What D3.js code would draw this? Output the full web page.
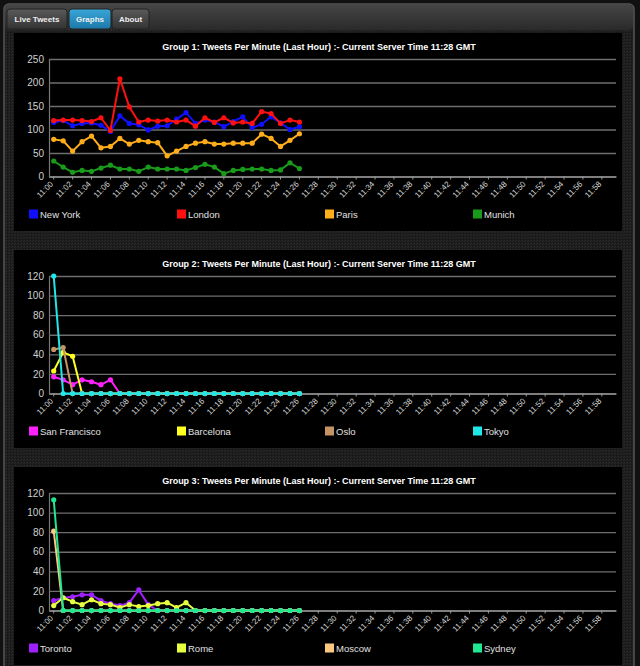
<!DOCTYPE html>
<html><head><meta charset="utf-8">
<script src="https://cdn.jsdelivr.net/npm/d3@7/dist/d3.min.js"></script>
<style>
html,body{margin:0;padding:0;background:#1c1c1c;overflow:hidden;}
svg{display:block;}
</style></head><body>
<svg id="c" width="640" height="666"></svg>
<script>
// ---------- DATA ----------
const categories = ["11:00","11:01","11:02","11:03","11:04","11:05","11:06","11:07","11:08","11:09",
  "11:10","11:11","11:12","11:13","11:14","11:15","11:16","11:17","11:18","11:19",
  "11:20","11:21","11:22","11:23","11:24","11:25","11:26","11:27","11:28","11:29",
  "11:30","11:31","11:32","11:33","11:34","11:35","11:36","11:37","11:38","11:39",
  "11:40","11:41","11:42","11:43","11:44","11:45","11:46","11:47","11:48","11:49",
  "11:50","11:51","11:52","11:53","11:54","11:55","11:56","11:57","11:58","11:59"];
const tickLabels = ["11:00","11:02","11:04","11:06","11:08","11:10","11:12","11:14","11:16","11:18",
  "11:20","11:22","11:24","11:26","11:28","11:30","11:32","11:34","11:36","11:38",
  "11:40","11:42","11:44","11:46","11:48","11:50","11:52","11:54","11:56","11:58"];
const dataMinutes = ["11:00","11:01","11:02","11:03","11:04","11:05","11:06","11:07","11:08","11:09",
  "11:10","11:11","11:12","11:13","11:14","11:15","11:16","11:17","11:18","11:19",
  "11:20","11:21","11:22","11:23","11:24","11:25","11:26"];

const titles = [
  "Group 1: Tweets Per Minute (Last Hour) :- Current Server Time 11:28 GMT",
  "Group 2: Tweets Per Minute (Last Hour) :- Current Server Time 11:28 GMT",
  "Group 3: Tweets Per Minute (Last Hour) :- Current Server Time 11:28 GMT"];

const group1Names = ["New York","London","Paris","Munich"];
const newYork = [115,119,108,113,114,109,96,129,113,110,99,107,108,122,136,113,120,116,106,117,127,104,111,127,114,100,106];
const london  = [119,120,120,119,117,125,98,208,148,116,120,118,120,116,120,107,125,115,125,114,116,113,138,134,113,120,116];
const paris   = [79,76,54,74,86,61,64,81,69,77,74,72,44,54,64,71,74,69,69,71,71,71,90,81,64,77,91];
const munich  = [33,20,9,13,11,18,24,16,16,11,20,16,16,16,13,19,26,20,6,13,15,16,16,13,14,29,17];
const group1Ticks = [0,50,100,150,200,250];

const group2Names = ["San Francisco","Barcelona","Oslo","Tokyo"];
const sanFrancisco = [17,14,9,14,12,9,14,0,0,0,0,0,0,0,0,0,0,0,0,0,0,0,0,0,0,0,0];
const barcelona    = [23,42,38,0,0,0,0,0,0,0,0,0,0,0,0,0,0,0,0,0,0,0,0,0,0,0,0];
const oslo         = [45,47,0,0,0,0,0,0,0,0,0,0,0,0,0,0,0,0,0,0,0,0,0,0,0,0,0];
const tokyo        = [120,0,0,0,0,0,0,0,0,0,0,0,0,0,0,0,0,0,0,0,0,0,0,0,0,0,0];
const group2Ticks = [0,20,40,60,80,100,120];

const group3Names = ["Toronto","Rome","Moscow","Sydney"];
const toronto = [10,13,14,16,16,10,7,5,8,21,6,0,0,0,0,0,0,0,0,0,0,0,0,0,0,0,0];
const rome    = [5,13,9,6,11,7,6,3,6,4,5,7,8,3,8,0,0,0,0,0,0,0,0,0,0,0,0];
const moscow  = [81,0,0,0,0,0,0,0,0,0,0,0,0,0,0,0,0,0,0,0,0,0,0,0,0,0,0];
const sydney  = [113,0,0,0,0,0,0,0,0,0,0,0,0,0,0,0,0,0,0,0,0,0,0,0,0,0,0];
const group3Ticks = [0,20,40,60,80,100,120];

const tabs = ["Live Tweets","Graphs","About"];

// ---------- STYLE ----------
const colors1 = ["#1010ff","#ff1010","#ffad1a","#1a9a1a"];
const colors2 = ["#ff20ff","#ffff20","#c49464","#20e8e8"];
const colors3 = ["#a020ff","#e8ff40","#ffc880","#20e890"];

const groups = [
  {title: titles[0], names: group1Names, series:[newYork,london,paris,munich], colors: colors1, ticks: group1Ticks, max:250, off:0},
  {title: titles[1], names: group2Names, series:[sanFrancisco,barcelona,oslo,tokyo], colors: colors2, ticks: group2Ticks, max:120, off:217},
  {title: titles[2], names: group3Names, series:[toronto,rome,moscow,sydney], colors: colors3, ticks: group3Ticks, max:120, off:434}
];

const svg = d3.select("#c");
const defs = svg.append("defs");
const pat = defs.append("pattern").attr("id","tex").attr("width",3).attr("height",3).attr("patternUnits","userSpaceOnUse");
pat.append("rect").attr("width",3).attr("height",3).attr("fill","#1d1d1d");
pat.append("rect").attr("x",0).attr("y",0).attr("width",1).attr("height",1).attr("fill","#2c2c2c");
pat.append("rect").attr("x",2).attr("y",1).attr("width",1).attr("height",1).attr("fill","#262626");
pat.append("rect").attr("x",1).attr("y",2).attr("width",1).attr("height",1).attr("fill","#151515");

const hg = defs.append("linearGradient").attr("id","hdr").attr("x1",0).attr("y1",0).attr("x2",0).attr("y2",1);
hg.append("stop").attr("offset","0").attr("stop-color","#454545");
hg.append("stop").attr("offset","1").attr("stop-color","#2a2a2a");
const tg = defs.append("linearGradient").attr("id","tabg").attr("x1",0).attr("y1",0).attr("x2",0).attr("y2",1);
tg.append("stop").attr("offset","0").attr("stop-color","#5a5a5a");
tg.append("stop").attr("offset","1").attr("stop-color","#333");
const tb = defs.append("linearGradient").attr("id","tabb").attr("x1",0).attr("y1",0).attr("x2",0).attr("y2",1);
tb.append("stop").attr("offset","0").attr("stop-color","#3aa6d8");
tb.append("stop").attr("offset","1").attr("stop-color","#1c78a8");

svg.append("rect").attr("width",640).attr("height",666).attr("fill","#111");
svg.append("rect").attr("x",4).attr("y",4).attr("width",630).attr("height",680).attr("rx",5)
  .attr("fill","url(#tex)").attr("stroke","#555").attr("stroke-width",1.5);
svg.append("rect").attr("x",5).attr("y",5).attr("width",628).attr("height",25).attr("rx",4).attr("fill","url(#hdr)");

// tabs
const tabX = [7,69,112], tabW = [60,42,37];
tabs.forEach((t,i)=>{
  svg.append("rect").attr("x",tabX[i]).attr("y",9).attr("width",tabW[i]).attr("height",20).attr("rx",3)
    .attr("fill", i===1 ? "url(#tabb)" : "url(#tabg)").attr("stroke","#222");
  svg.append("text").attr("x",tabX[i]+tabW[i]/2).attr("y",21.5).attr("text-anchor","middle")
    .attr("font-family","Liberation Sans, Arial, sans-serif").attr("font-size",8).attr("font-weight","bold")
    .attr("fill","#eee").text(t);
});

const x = d3.scaleBand().domain(categories).range([49,616]).paddingInner(0).paddingOuter(0);
const font = "Liberation Sans, Arial, sans-serif";

groups.forEach(g=>{
  const off = g.off;
  const top = 59 + off, bottom = 176.5 + off;
  svg.append("rect").attr("x",14).attr("y",33+off).attr("width",608).attr("height",198).attr("fill","#000");
  const y = d3.scaleLinear().domain([0,g.max]).range([bottom, top]);

  svg.append("text").attr("x",319).attr("y",49.5+off).attr("text-anchor","middle")
    .attr("font-family",font).attr("font-size",9).attr("font-weight","bold").attr("fill","#fff").text(g.title);

  const yAx = svg.append("g").attr("transform","translate(49,0)")
    .call(d3.axisLeft(y).tickValues(g.ticks).tickSize(-567).tickPadding(5));
  yAx.select(".domain").attr("stroke","#777").attr("stroke-width",1.2);
  yAx.selectAll(".tick line").attr("stroke","#6e6e6e").attr("stroke-width",1.3);
  yAx.selectAll(".tick text").attr("fill","#d0d0d0").attr("font-family",font).attr("font-size",10);

  const xAx = svg.append("g").attr("transform",`translate(0,${bottom})`)
    .call(d3.axisBottom(x).tickValues(tickLabels).tickSize(3).tickSizeOuter(0));
  xAx.select(".domain").attr("stroke","#888").attr("stroke-width",1.3);
  xAx.selectAll(".tick line").attr("stroke","#999");
  xAx.selectAll(".tick text").attr("fill","#d8d8d8").attr("font-family",font).attr("font-size",8)
    .attr("text-anchor","end").attr("x",0).attr("y",0).attr("dy",0)
    .attr("transform","translate(0,8) rotate(-45)");

  const line = d3.line().x((d,i)=>x(dataMinutes[i]) + x.bandwidth()/2).y(d=>y(d));
  g.series.forEach((s,si)=>{
    svg.append("path").datum(s).attr("d",line).attr("fill","none")
      .attr("stroke",g.colors[si]).attr("stroke-width",2).attr("stroke-linejoin","round");
    svg.append("g").selectAll("circle").data(s).join("circle")
      .attr("cx",(d,i)=>x(dataMinutes[i]) + x.bandwidth()/2).attr("cy",d=>y(d)).attr("r",2.6)
      .attr("fill",g.colors[si]);
  });

  g.names.forEach((n,i)=>{
    const lx = 29 + i*148;
    svg.append("rect").attr("x",lx).attr("y",209.5+off).attr("width",9).attr("height",9).attr("fill",g.colors[i]);
    svg.append("text").attr("x",lx+11).attr("y",217.5+off).attr("font-family",font).attr("font-size",9.5)
      .attr("fill","#e0e0e0").text(n);
  });
});
</script>
</body></html>
